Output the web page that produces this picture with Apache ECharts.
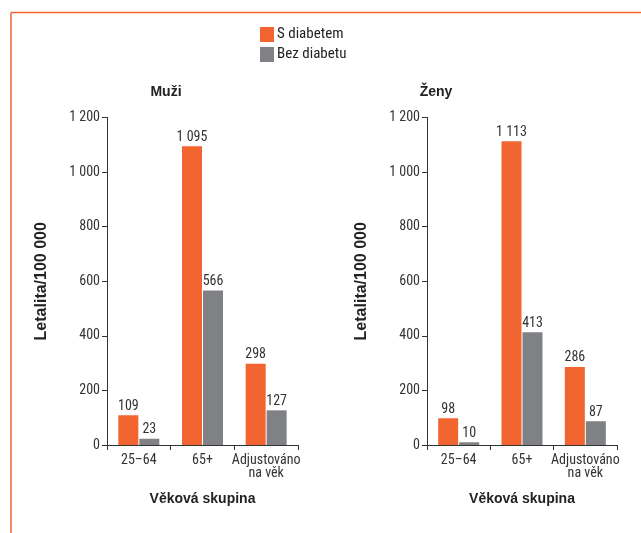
<!DOCTYPE html>
<html><head><meta charset="utf-8">
<script src="https://cdn.jsdelivr.net/npm/echarts@6/dist/echarts.min.js"></script>
<style>html,body{margin:0;padding:0;background:#fff}#c{width:641px;height:533px}</style>
</head><body><div id="c"></div>
<script>
const categories = ['25–64', '65+', 'Adjustováno\nna věk'];
const seriesNames = ['S diabetem', 'Bez diabetu'];
const panelTitles = ['Muži', 'Ženy'];
const menWith = [109, 1095, 298];
const menWithout = [23, 566, 127];
const womenWith = [98, 1113, 286];
const womenWithout = [10, 413, 87];
const yTicks = [0, 200, 400, 600, 800, 1000, 1200];

const ORANGE = '#F26430', GRAY = '#808184', AX = '#333';
const FONT = '"Liberation Sans Narrow", "Roboto Condensed", Roboto';
const BFONT = '"Liberation Sans"';
function fmt(v){ return String(v).replace(/\B(?=(\d{3})+(?!\d))/g, ' '); }

const grids = [
  {left:107, top:117.5, width:191, height:327.5},
  {left:427, top:117.5, width:190, height:327.5}
];
const xAxes = grids.map((g,i)=>({
  type:'category', gridIndex:i, data:categories,
  axisLine:{lineStyle:{color:AX, width:1}},
  axisTick:{show:true, length:5, lineStyle:{color:AX}},
  axisLabel:{color:AX, fontSize:14, fontFamily:FONT, lineHeight:13, margin:9, interval:0},
  name:'Věková skupina', nameLocation:'middle', nameGap:47,
  nameTextStyle:{color:'#222', fontWeight:'bold', fontSize:14, fontFamily:BFONT}
}));
const yAxes = grids.map((g,i)=>({
  type:'value', gridIndex:i, min:yTicks[0], max:yTicks[yTicks.length-1], interval:200,
  axisLine:{show:true, lineStyle:{color:AX, width:1}},
  axisTick:{show:true, length:5, lineStyle:{color:AX}},
  splitLine:{show:false},
  axisLabel:{color:AX, fontSize:14, fontFamily:FONT, formatter:fmt, margin:7},
  name:'Letalita/100 000', nameLocation:'middle', nameGap:57, nameRotate:90,
  nameTextStyle:{color:'#222', fontWeight:'bold', fontSize:16, fontFamily:BFONT}
}));
const lbl = {show:true, position:'top', color:AX, fontSize:14, fontFamily:FONT, distance:2, formatter:p=>fmt(p.value)};
function bar(name, data, color, idx){
  return {name, type:'bar', xAxisIndex:idx, yAxisIndex:idx, data, barWidth:20, barGap:'5%',
    itemStyle:{color}, label:lbl, emphasis:{disabled:true}};
}
const chart = echarts.init(document.getElementById('c'));
chart.setOption({
  animation:false,
  title: panelTitles.map((t,i)=>({text:t, left:[161,431][i], top:80, textAlign:'center',
    textStyle:{fontSize:14, fontWeight:'bold', color:'#222', fontFamily:BFONT}})),
  legend:{data:seriesNames, orient:'vertical', left:260, top:27, padding:0, itemWidth:14, itemHeight:15, itemGap:5,
    icon:'rect', textStyle:{color:'#222', fontSize:15, fontFamily:FONT, padding:[0,0,0,-2]}},
  grid:grids, xAxis:xAxes, yAxis:yAxes,
  series:[
    bar(seriesNames[0], menWith, ORANGE, 0), bar(seriesNames[1], menWithout, GRAY, 0),
    bar(seriesNames[0], womenWith, ORANGE, 1), bar(seriesNames[1], womenWithout, GRAY, 1)
  ],
  graphic:[
    {type:'line', shape:{x1:11, y1:12.5, x2:641, y2:12.5}, style:{stroke:ORANGE, lineWidth:1.5}},
    {type:'line', shape:{x1:11, y1:12.5, x2:11, y2:533}, style:{stroke:ORANGE, lineWidth:1.5}}
  ]
});
</script></body></html>
